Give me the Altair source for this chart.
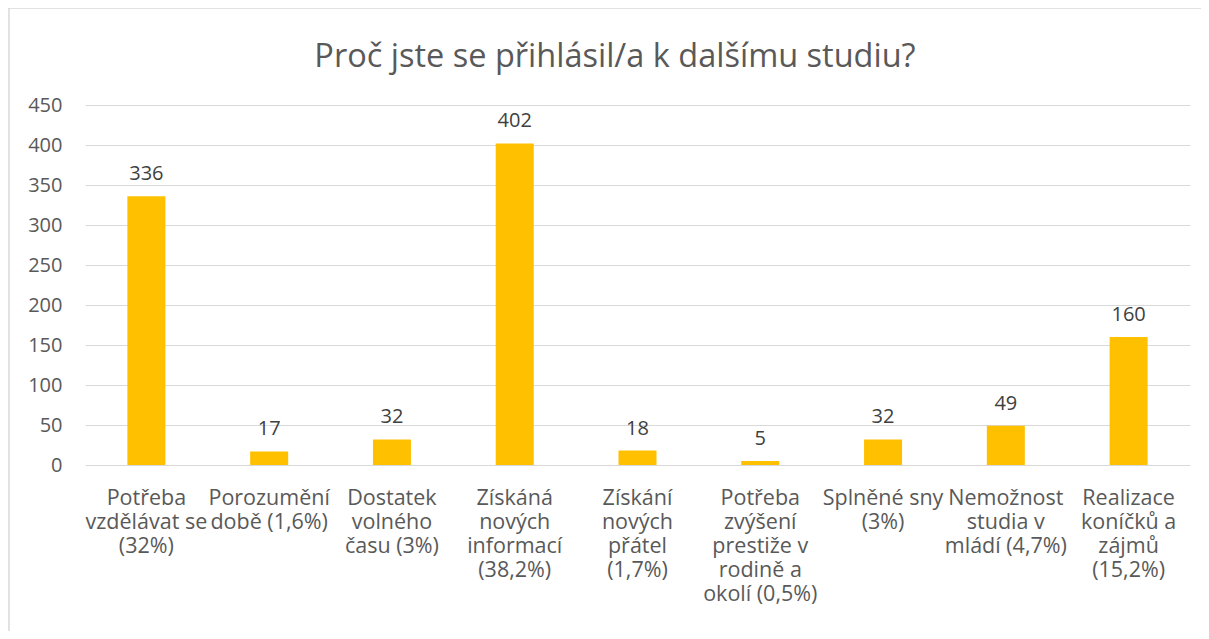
import altair as alt
import pandas as pd

categories = [
    "Potřeba|vzdělávat se|(32%)",
    "Porozumění|době (1,6%)",
    "Dostatek|volného|času (3%)",
    "Získáná|nových|informací|(38,2%)",
    "Získání|nových|přátel|(1,7%)",
    "Potřeba|zvýšení|prestiže v|rodině a|okolí (0,5%)",
    "Splněné sny|(3%)",
    "Nemožnost|studia v|mládí (4,7%)",
    "Realizace|koníčků a|zájmů|(15,2%)",
]
values = [336, 17, 32, 402, 18, 5, 32, 49, 160]
y_ticks = [0, 50, 100, 150, 200, 250, 300, 350, 400, 450]
title_text = "Proč jste se přihlásil/a k dalšímu studiu?"

df = pd.DataFrame({"cat": categories, "val": values})

FONT = "Open Sans"
GRAY = "#595959"

x = alt.X("cat:N", sort=None, title=None,
          scale=alt.Scale(paddingInner=0, paddingOuter=0),
          axis=alt.Axis(labelExpr="split(datum.value, '|')", labelAngle=0,
                        labelFontSize=21.5, labelColor=GRAY, labelFont=FONT,
                        labelLineHeight=24, labelPadding=22, ticks=False,
                        domain=False, labelBaseline="top", labelLimit=300,
                        labelOverlap=False))
y = alt.Y("val:Q", title=None,
          scale=alt.Scale(domain=[0, 450], nice=False),
          axis=alt.Axis(values=y_ticks, labelFontSize=20,
                        labelColor=GRAY, labelFont=FONT, labelPadding=23,
                        ticks=False, domain=False, gridColor="#d9d9d9",
                        gridWidth=1.2, labelOverlap=False))

bars = alt.Chart(df).mark_bar(color="#FFC000", size=38).encode(x=x, y=y)
labels = alt.Chart(df).mark_text(dy=-12, fontSize=20, color="#404040",
                                 font=FONT, baseline="bottom").encode(
    x=x, y=y, text="val:Q")

title_df = pd.DataFrame({"t": [title_text]})
title = alt.Chart(title_df).mark_text(fontSize=32.5, color=GRAY, font=FONT,
                                      baseline="middle", align="center").encode(
    x=alt.value(530), y=alt.value(-48), text="t:N")

frame_left = alt.Chart(title_df).mark_rule(color="#d9d9d9", strokeWidth=1.5).encode(
    x=alt.value(-76), y=alt.value(-97), y2=alt.value(560))
frame_top = alt.Chart(title_df).mark_rule(color="#d9d9d9", strokeWidth=1.5).encode(
    x=alt.value(-77), x2=alt.value(1130), y=alt.value(-97))

chart = alt.layer(frame_left, frame_top, bars, labels, title).properties(
    width=1105, height=360,
    autosize=alt.AutoSizeParams(type="none"),
    padding={"left": 77, "top": 97, "right": 11, "bottom": 166},
).configure(font=FONT).configure_view(stroke=None, strokeWidth=0)

chart.save("out.html", embed_options={"renderer": "svg", "actions": False})
